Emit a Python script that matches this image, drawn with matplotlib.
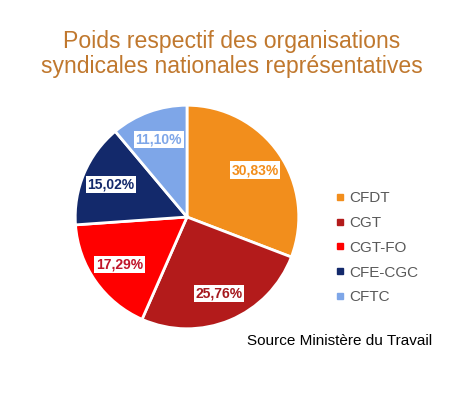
import matplotlib.pyplot as plt
from matplotlib.lines import Line2D
import numpy as np

plt.rcParams['font.family'] = ['Liberation Sans', 'DejaVu Sans']

labels = ['CFDT', 'CGT', 'CGT-FO', 'CFE-CGC', 'CFTC']
values = [30.83, 25.76, 17.29, 15.02, 11.10]
colors = ['#F28E1C', '#B31B1B', '#FF0000', '#13296B', '#7EA6E8']
text_colors = ['#F28E1C', '#A5191E', '#C0142A', '#13296B', '#7EA6E8']

W, H = 452, 407
fig = plt.figure(figsize=(W / 100, H / 100), dpi=100)
fig.patch.set_facecolor('white')

# pie box in pixels: centre (187,217), radius 114
ax = fig.add_axes([(187 - 114) / W, (H - 331) / H, 228 / W, 228 / H])
wedges, _ = ax.pie(values, colors=colors, startangle=90, counterclock=False,
                   wedgeprops=dict(edgecolor='white', linewidth=2))
ax.set_xlim(-1.02, 1.02)
ax.set_ylim(-1.02, 1.02)

angle = 90.0
for v, tc in zip(values, text_colors):
    mid = np.deg2rad(angle - v * 3.6 / 2)
    angle -= v * 3.6
    r = 0.74
    ax.text(r * np.cos(mid), r * np.sin(mid), f'{v:.2f}%'.replace('.', ','),
            ha='center', va='center', fontsize=10, fontweight='bold', color=tc,
            bbox=dict(boxstyle='square,pad=0.12', facecolor='white', edgecolor='none'))

fig.text(0.512, 1 - 54 / H, 'Poids respectif des organisations\nsyndicales nationales représentatives',
         ha='center', va='center', fontsize=16.6, color='#C0782E', linespacing=1.12)

handles = [Line2D([], [], marker='s', linestyle='none', markersize=5,
                  markerfacecolor=c, markeredgecolor=c) for c in colors]
fig.legend(handles, labels, loc='upper left', bbox_to_anchor=(336 / W, 1 - 191 / H),
           frameon=False, fontsize=11, labelcolor='#595959', handlelength=0.55,
           handletextpad=0.3, labelspacing=0.71, borderpad=0, borderaxespad=0)

fig.text(247 / W, 1 - 341 / H, 'Source Ministère du Travail', ha='left', va='center',
         fontsize=11, color='black')

fig.savefig('out.png', dpi=100)
